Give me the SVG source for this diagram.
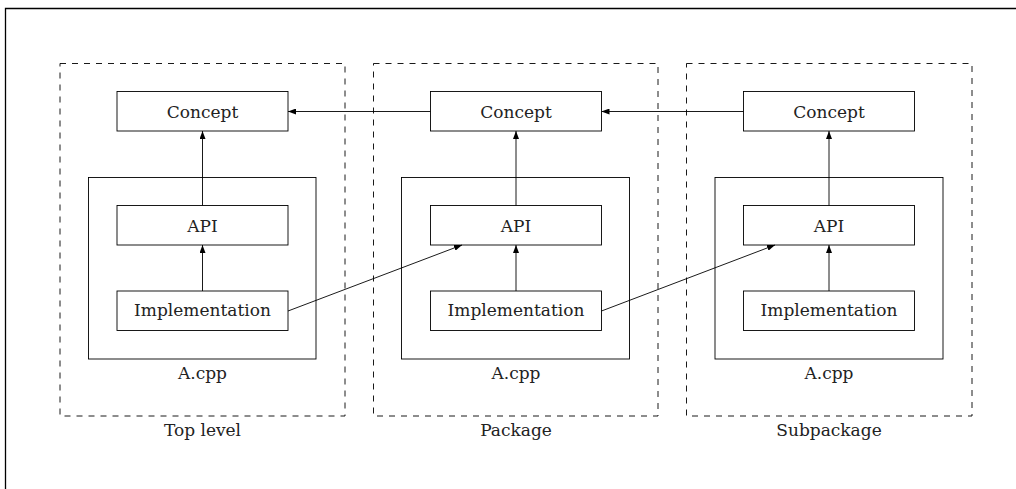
<svg xmlns="http://www.w3.org/2000/svg" width="1016" height="489" viewBox="0 0 1016 489">
<style>
.frame{fill:none;stroke:#000;stroke-width:1.3}
.pkg{fill:none;stroke:#000;stroke-width:0.9;stroke-dasharray:6 6}
.file{fill:none;stroke:#000;stroke-width:0.9}
.box{fill:#fff;stroke:#000;stroke-width:0.9}
.t{font-family:'DejaVu Serif','Liberation Serif',serif;font-size:17px;fill:#222;text-anchor:middle}
.c{stroke:#000;stroke-width:0.9;fill:none;marker-end:url(#ah)}
</style>
<defs>
<marker id="ah" viewBox="0 0 8 6" refX="8" refY="3" markerWidth="8" markerHeight="6" markerUnits="userSpaceOnUse" orient="auto">
<path d="M0,0 L8,3 L0,6 Z" fill="#000"/>
</marker>
</defs>
<rect width="1016" height="489" fill="#fff"/>
<g id="frame">
<path class="frame" d="M5.5,489 V8.5 H1016"/>
</g>
<g id="toplevel">
<rect class="pkg" x="60" y="63.5" width="285" height="352.5"/>
<text class="t" x="202.5" y="436">Top level</text>
</g>
<g id="toplevel-file">
<rect class="file" x="88.5" y="177.5" width="227.5" height="181.5"/>
<text class="t" x="202.5" y="379">A.cpp</text>
</g>
<g id="toplevel-concept">
<rect class="box" x="117" y="91.5" width="171" height="39.5"/>
<text class="t" x="202.5" y="117.5">Concept</text>
</g>
<g id="toplevel-api">
<rect class="box" x="117" y="205.5" width="171" height="39.5"/>
<text class="t" x="202.5" y="232">API</text>
</g>
<g id="toplevel-impl">
<rect class="box" x="117" y="291" width="171" height="39.5"/>
<text class="t" x="202.5" y="316">Implementation</text>
</g>

<g id="package">
<rect class="pkg" x="373.5" y="63.5" width="284.5" height="352.5"/>
<text class="t" x="516" y="436">Package</text>
</g>
<g id="package-file">
<rect class="file" x="401.5" y="177.5" width="228" height="181.5"/>
<text class="t" x="516" y="379">A.cpp</text>
</g>
<g id="package-concept">
<rect class="box" x="430.5" y="91.5" width="171" height="39.5"/>
<text class="t" x="516" y="117.5">Concept</text>
</g>
<g id="package-api">
<rect class="box" x="430.5" y="205.5" width="171" height="39.5"/>
<text class="t" x="516" y="232">API</text>
</g>
<g id="package-impl">
<rect class="box" x="430.5" y="291" width="171" height="39.5"/>
<text class="t" x="516" y="316">Implementation</text>
</g>

<g id="subpackage">
<rect class="pkg" x="686.5" y="63.5" width="285.5" height="352.5"/>
<text class="t" x="829" y="436">Subpackage</text>
</g>
<g id="subpackage-file">
<rect class="file" x="715" y="177.5" width="228" height="181.5"/>
<text class="t" x="829" y="379">A.cpp</text>
</g>
<g id="subpackage-concept">
<rect class="box" x="743.5" y="91.5" width="171" height="39.5"/>
<text class="t" x="829" y="117.5">Concept</text>
</g>
<g id="subpackage-api">
<rect class="box" x="743.5" y="205.5" width="171" height="39.5"/>
<text class="t" x="829" y="232">API</text>
</g>
<g id="subpackage-impl">
<rect class="box" x="743.5" y="291" width="171" height="39.5"/>
<text class="t" x="829" y="316">Implementation</text>
</g>

<g id="connectors">
<line class="c" x1="202.5" y1="205.5" x2="202.5" y2="131"/>
<line class="c" x1="202.5" y1="291" x2="202.5" y2="245"/>
<line class="c" x1="516" y1="205.5" x2="516" y2="131"/>
<line class="c" x1="516" y1="291" x2="516" y2="245"/>
<line class="c" x1="829" y1="205.5" x2="829" y2="131"/>
<line class="c" x1="829" y1="291" x2="829" y2="245"/>
<line class="c" x1="430.5" y1="111.5" x2="288" y2="111.5"/>
<line class="c" x1="743.5" y1="111.5" x2="601.5" y2="111.5"/>
<line class="c" x1="288" y1="311" x2="462" y2="245"/>
<line class="c" x1="601.5" y1="311" x2="775" y2="245"/>
</g>
</svg>
